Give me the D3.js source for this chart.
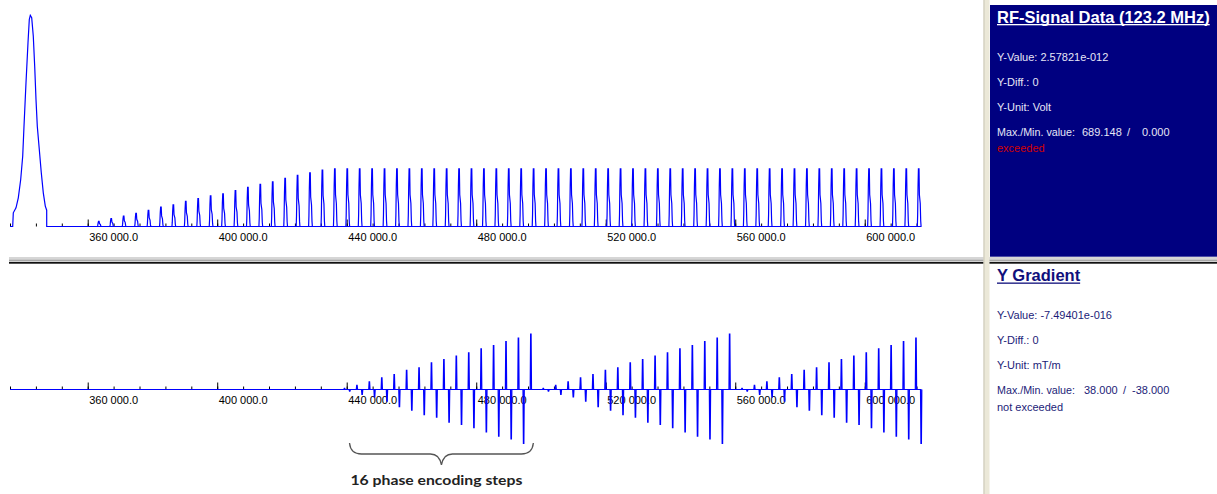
<!DOCTYPE html>
<html lang="en">
<head>
<meta charset="utf-8">
<title>RF signal and Y gradient</title>
<script src="https://d3js.org/d3.v7.min.js"></script>
<style>
  body { margin: 0; background: #fff; }
  svg text { font-family: "Liberation Sans", Arial, sans-serif; }
  .tick text { font-size: 11px; fill: #000; }
  .tick line { stroke: #000; }
  .trace { fill: none; stroke: #0000ff; stroke-width: 1.2; }
  .info { font-size: 11px; white-space: pre; }
</style>
</head>
<body>
<svg id="chart" width="1217" height="494"></svg>
<script>
// ---- data ----
// time axis shared by both traces
var timeDomain = [336000, 617500];
var majorTicks = [360000, 400000, 440000, 480000, 520000, 560000, 600000];
var tickLabels = ["360 000.0", "400 000.0", "440 000.0", "480 000.0", "520 000.0", "560 000.0", "600 000.0"];
var minorStep = 8000;

// RF signal: FID right after excitation (time, volt)
var fidTime = [336000, 336834, 337019, 337853, 338563, 339304, 339922, 340323, 340941, 341558, 341960,
               342269, 342701, 343195, 343627, 344029, 344430, 345048, 345665, 346283, 346901, 347333, 347340, 617500];
var fidVolt = [0, 0, 44.7, 61, 93.7, 153.5, 229.5, 327.5, 469.2, 599.8, 675.9,
               689.148, 681.4, 621.3, 523.4, 414.7, 327.5, 251.4, 175.3, 110, 66.6, 53.2, 0, 0];

// spin echoes, one per TR
var echoStart = 363400, echoTR = 3837;
var echoVolt = [17, 26, 34, 43, 53, 63, 71, 82, 91, 100, 107, 117, 128, 138, 146, 157, 167, 175, 184, 188,
                188, 188, 188, 188, 188, 188, 188, 188, 188, 188, 188, 188, 188, 188, 188, 188,
                188, 188, 188, 188, 188, 188, 188, 188, 188, 188, 188, 188, 188, 188, 188, 188,
                188, 188, 188, 188, 188, 188, 188, 188, 188, 188, 188, 188, 188, 188, 188];
// echo outline: offset from echo centre, fraction of amplitude
var echoShapeDt = [-400, -300, -180, -60, 120, 240, 500, 640, 760];
var echoShapeFrac = [0, 0.2, 0.7, 1, 1, 0.55, 0.4, 0.1, 0];

// Y gradient: 3 blocks of 16 phase encoding steps (mT/m)
var peStart = 439320, peTR = 3837, peSteps = 16, peBlocks = 3;
var pePos = [0.7, 2.7, 5.1, 7.8, 10.0, 12.7, 14.5, 17.8, 20.0, 22.2, 24.5, 27.1, 29.3, 32.0, 34.2, 36.9];
var peNeg = [-1.1, -3.3, -4.9, -7.8, -11.5, -13.8, -16.7, -18.5, -21.8, -23.3, -25.5, -28.2, -31.1, -32.9, -36.0];
var peNegDelay = 1606;
var lobeDt = [-200, -70, 70, 200];
var lobeFrac = [0, 1, 1, 0];

// info panels
var rfTitle = "RF-Signal Data (123.2 MHz)";
var rfLines = ["Y-Value: 2.57821e-012", "Y-Diff.: 0", "Y-Unit: Volt"];
var rfMaxMin = ["689.148", "/", "0.000"];
var rfStatus = "exceeded";
var gTitle = "Y Gradient";
var gLines = ["Y-Value: -7.49401e-016", "Y-Diff.: 0", "Y-Unit: mT/m"];
var gMaxMin = ["38.000", "/", "-38.000"];
var gStatus = "not exceeded";

// ---- drawing ----
var svg = d3.select("#chart");

var x = d3.scaleLinear().domain(timeDomain).range([10, 921.4]);
var yRF = d3.scaleLinear().domain([0, 700]).range([226.5, 12.1]);
var yG = d3.scaleLinear().domain([-38, 38]).range([446.5, 332.5]);

var minorTicks = d3.range(timeDomain[0], timeDomain[1], minorStep);

function drawAxis(y0) {
  var g = svg.append("g").attr("transform", "translate(0," + y0 + ")");
  g.append("g")
    .call(d3.axisBottom(x).tickValues(minorTicks).tickSize(-3).tickFormat(""))
    .call(function(s) { s.select(".domain").remove(); });
  var maj = g.append("g")
    .call(d3.axisBottom(x).tickValues(majorTicks).tickSize(-7).tickPadding(0)
      .tickFormat(function(d, i) { return tickLabels[i]; }));
  maj.select(".domain").remove();
  maj.selectAll("text")
    .attr("x", 1).attr("y", 14).attr("dy", null)
    .attr("text-anchor", "start");
}

drawAxis(yRF(0));
drawAxis(yG(0));

var line = d3.line();

// RF: FID and baseline
svg.append("path").attr("class", "trace")
  .attr("d", line(fidTime.map(function(t, i) { return [x(t), yRF(fidVolt[i])]; })));

// RF: echoes
svg.append("g").selectAll("path")
  .data(echoVolt)
  .join("path")
  .attr("class", "trace")
  .attr("d", function(v, i) {
    var tc = echoStart + i * echoTR;
    return line(echoShapeDt.map(function(dt, k) { return [x(tc + dt), yRF(v * echoShapeFrac[k])]; }));
  });

// gradient lobes
var lobes = [];
for (var b = 0; b < peBlocks; b++) {
  for (var j = 0; j < peSteps; j++) {
    var t = peStart + (b * peSteps + j) * peTR;
    lobes.push({ t: t, a: pePos[j] });
    if (j < peNeg.length) lobes.push({ t: t + peNegDelay, a: peNeg[j] });
  }
}
lobes = lobes.filter(function(d) { return d.t <= timeDomain[1]; });

svg.append("path").attr("class", "trace")
  .attr("d", line([[x(timeDomain[0]), yG(0)], [x(timeDomain[1]), yG(0)]]));

svg.append("g").selectAll("path")
  .data(lobes)
  .join("path")
  .attr("class", "trace")
  .attr("d", function(d) {
    return line(lobeDt.map(function(dt, k) { return [x(d.t + dt), yG(d.a * lobeFrac[k])]; }));
  });

// brace under the first block
var bx0 = x(peStart) + 5, bx1 = x(peStart + (peSteps - 1) * peTR) + 2.5, bm = (bx0 + bx1) / 2;
svg.append("path")
  .attr("d", "M" + bx0 + ",443 Q" + (bx0 + 1) + ",454 " + (bx0 + 12) + ",454 L" + (bm - 11) + ",454 Q" +
    (bm - 2) + ",454 " + bm + ",465 Q" + (bm + 2) + ",454 " + (bm + 11) + ",454 L" + (bx1 - 12) + ",454 Q" +
    (bx1 - 1) + ",454 " + bx1 + ",443")
  .attr("fill", "none").attr("stroke", "#555").attr("stroke-width", 1.3);
svg.append("text")
  .attr("x", bm - 5).attr("y", 485)
  .attr("text-anchor", "middle")
  .style("font-family", "Lato, 'Open Sans', sans-serif")
  .style("font-size", "14px").style("font-weight", "bold").style("fill", "#222")
  .attr("textLength", 172).attr("lengthAdjust", "spacingAndGlyphs")
  .text("16 phase encoding steps");

// separators
svg.append("rect").attr("x", 9).attr("y", 257).attr("width", 1208).attr("height", 2.5).attr("fill", "#d6d6d6");
svg.append("rect").attr("x", 9).attr("y", 259.5).attr("width", 1208).attr("height", 2).attr("fill", "#a8a8a8");
svg.append("rect").attr("x", 9).attr("y", 262).attr("width", 1208).attr("height", 1.7).attr("fill", "#111");
svg.append("rect").attr("x", 983.5).attr("y", 0).attr("width", 6).attr("height", 494).attr("fill", "#ebe8d8");
svg.append("rect").attr("x", 983.5).attr("y", 0).attr("width", 1).attr("height", 494).attr("fill", "#c9c5b5");

// info panels
svg.append("rect").attr("x", 990).attr("y", 5).attr("width", 227).attr("height", 251.7).attr("fill", "#000080");

function infoPanel(y0, title, lines, maxMin, status, titleColor, textColor, statusColor, mmX) {
  svg.append("text").attr("x", 997).attr("y", y0)
    .style("font-size", "16.5px").style("font-weight", "bold").style("fill", titleColor)
    .text(title);
  var tw = svg.append("text").text(title).style("font-size", "16.5px").style("font-weight", "bold")
    .attr("opacity", 0);
  var w = tw.node().getComputedTextLength();
  tw.remove();
  svg.append("rect").attr("x", 997).attr("y", y0 + 1.5).attr("width", w).attr("height", 1.3).attr("fill", titleColor);

  lines.forEach(function(s, i) {
    svg.append("text").attr("class", "info").attr("x", 997).attr("y", y0 + 38 + i * 25)
      .style("fill", textColor).text(s);
  });
  var ym = y0 + 38 + 3 * 25;
  svg.append("text").attr("class", "info").attr("x", 997).attr("y", ym).style("fill", textColor)
    .attr("textLength", 78).attr("lengthAdjust", "spacingAndGlyphs").text("Max./Min. value:");
  maxMin.forEach(function(s, i) {
    svg.append("text").attr("class", "info").attr("x", mmX[i]).attr("y", ym).style("fill", textColor).text(s);
  });
  svg.append("text").attr("class", "info").attr("x", 997).attr("y", ym + 16.5).style("fill", statusColor).text(status);
}

infoPanel(22.5, rfTitle, rfLines, rfMaxMin, rfStatus, "#ffffff", "#e6e6f6", "#d00000", [1082, 1127, 1142]);
infoPanel(281, gTitle, gLines, gMaxMin, gStatus, "#10107c", "#1c1c78", "#1c1c78", [1084, 1123, 1132]);
</script>
</body>
</html>
